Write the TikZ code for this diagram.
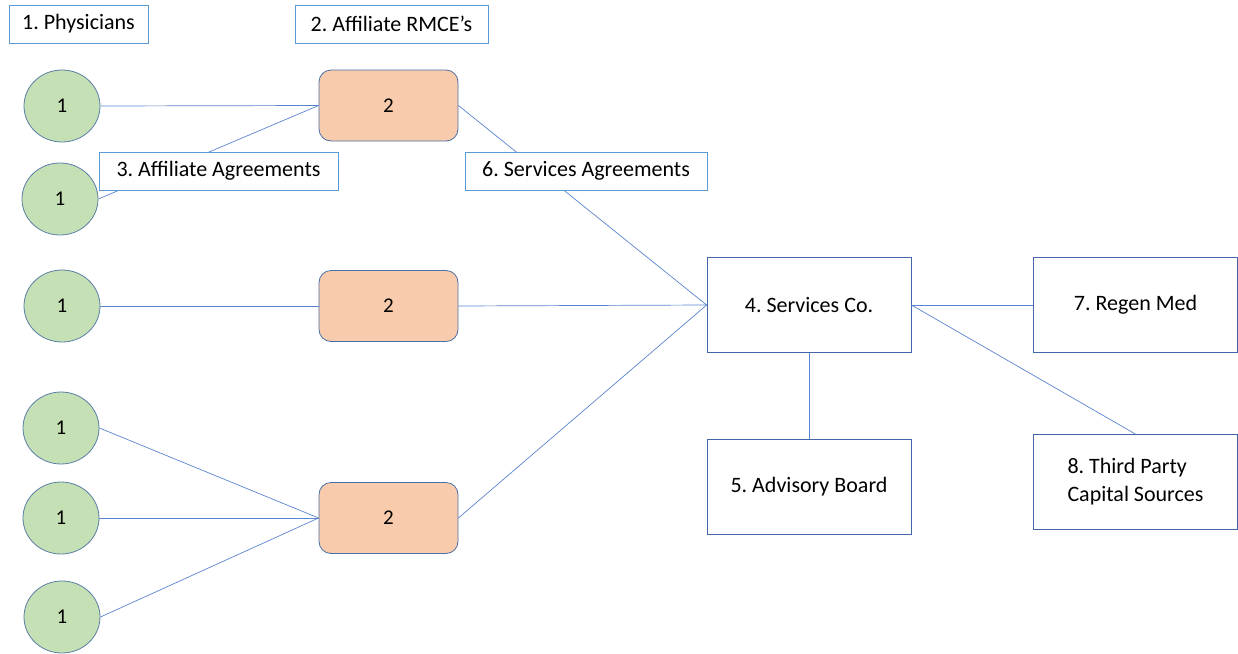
\documentclass[tikz,border=0pt]{standalone}
\usepackage{fontspec}
\setmainfont{Carlito}
\frenchspacing
\usetikzlibrary{shapes.geometric}
\definecolor{cfill}{HTML}{C5E0B4}
\definecolor{cedge}{HTML}{5B7FA6}
\definecolor{ofill}{HTML}{F8CBAD}
\definecolor{oedge}{HTML}{4A6FA5}
\definecolor{lineblue}{HTML}{5B84D0}
\definecolor{lblue}{HTML}{5B9BD5}
\definecolor{bedge}{HTML}{4466AA}
\tikzset{
  phys/.style={ellipse, draw=cedge, fill=cfill, line width=0.8pt, minimum width=76pt, minimum height=72pt, inner sep=0pt, font=\fontsize{21}{24}\selectfont},
  rmce/.style={rounded corners=12pt, draw=oedge, fill=ofill, line width=0.8pt, minimum width=139pt, minimum height=71pt, inner sep=0pt, font=\fontsize{21}{24}\selectfont},
  lbl/.style={draw=lblue, fill=white, line width=0.9pt, inner sep=0pt, font=\fontsize{22}{26}\selectfont},
  ent/.style={draw=bedge, fill=white, line width=0.8pt, minimum width=204pt, minimum height=95pt, inner sep=0pt, align=left, font=\fontsize{22}{28}\selectfont},
  conn/.style={draw=lineblue, line width=0.7pt}
}
\begin{document}
\begin{tikzpicture}[x=1pt,y=-1pt]
\useasboundingbox (0,0) rectangle (1238,653);
% entities
\node[phys] (c1) at (62,106) {1};
\node[phys] (c2) at (60,199) {1};
\node[phys] (c3) at (62,306) {1};
\node[phys] (c4) at (61,428) {1};
\node[phys] (c5) at (61,518) {1};
\node[phys] (c6) at (62,617) {1};
\node[rmce] (r1) at (388.5,105.5) {2};
\node[rmce] (r2) at (388.5,306) {2};
\node[rmce] (r3) at (388.5,518) {2};
\node[ent] (sc) at (809,305) {4. Services Co.};
\node[ent] (ab) at (809,487) {5. Advisory Board};
\node[ent] (rm) at (1135.5,305) {7. Regen Med};
\node[ent] (tp) at (1135.5,482) {8. Third Party\\Capital Sources};
% connectors
\draw[conn] (c1.east) -- (r1.west);
\draw[conn] (r1.west) -- (c2.east);
\draw[conn] (c3.east) -- (r2.west);
\draw[conn] (c4.east) -- (r3.west);
\draw[conn] (c5.east) -- (r3.west);
\draw[conn] (c6.east) -- (r3.west);
\draw[conn] (r1.east) -- (sc.west);
\draw[conn] (r2.east) -- (sc.west);
\draw[conn] (r3.east) -- (sc.west);
\draw[conn] (sc.east) -- (rm.west);
\draw[conn] (sc.east) -- (tp.north);
\draw[conn] (sc.south) -- (ab.north);
% labels
\node[lbl, minimum width=139pt, minimum height=38pt] (l1) at (78.5,24) {1. Physicians};
\node[lbl, minimum width=193pt, minimum height=38pt] (l2) at (391.5,24) {2. Affiliate RMCE’s};
\node[lbl, minimum width=239pt, minimum height=38pt] (l3) at (218.5,171) {3. Affiliate Agreements};
\node[lbl, minimum width=242pt, minimum height=38pt] (l6) at (586,171) {6. Services Agreements};
\end{tikzpicture}
\end{document}
